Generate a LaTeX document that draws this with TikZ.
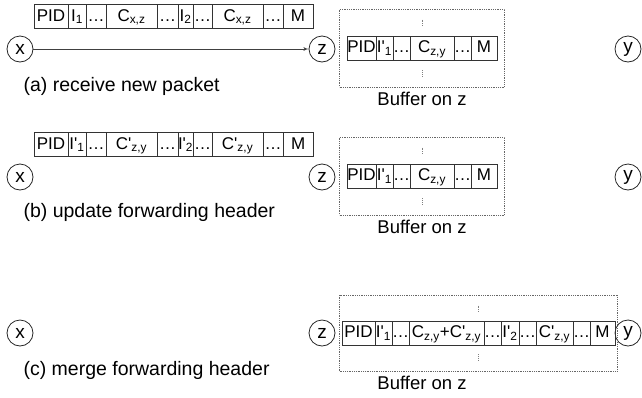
\documentclass[tikz,border=0pt]{standalone}
\usepackage{fontspec}
\setmainfont{Liberation Sans}[Ligatures=TeXOff]
\usetikzlibrary{positioning,arrows,fit}

\tikzset{
	cell/.style={draw=black!80, line width=0.8pt, minimum height=24pt, inner sep=0pt, outer sep=0pt, text height=12pt, text depth=3pt, font=\fontsize{17}{18}\selectfont},
	host/.style={circle, draw=black!85, line width=0.8pt, minimum size=26pt, inner sep=0pt, font=\fontsize{19}{20}\selectfont},
	buffer/.style={draw=black!60, line width=0.8pt, densely dotted, inner xsep=7.5pt, inner ysep=27pt},
	dotpile/.style={draw=black!50, line width=0.8pt, densely dotted},
	caption/.style={anchor=west, font=\fontsize{19.5}{21}\selectfont},
	bufname/.style={anchor=north, font=\fontsize{18.5}{20}\selectfont}
}
\newcommand{\sub}[1]{\textsubscript{#1}}
\newcommand{\skipped}{\ldots}
% a packet as a row of cells: prefix, west point, list of width/text
\newcommand{\packet}[3]{%
	\coordinate (#1-0) at #2;
	\foreach \cw/\ct [count=\i, remember=\i as \j (initially 0)] in {#3}
		\node[cell, minimum width=\cw pt, right=0pt of #1-\j] (#1-\i) {\ct};
}

\begin{document}
\begin{tikzpicture}[x=1pt,y=-1pt]
	\useasboundingbox (0,0) rectangle (642,397);
	% (a) receive new packet
	\node[host] (xa) at (20,49) {x};
	\node[host] (za) at (322,49) {z};
	\node[host] (ya) at (628,49) {y};
	\packet{ha}{(34,16.5)}{34/PID, 18/I\sub{1}, 20/\skipped, 51/C\sub{x,z}, 21/\skipped, 15/I\sub{2}, 19/\skipped, 51/C\sub{x,z}, 20/\skipped, 30/M}
	\draw[-latex', black!75, line width=0.8pt] (xa) -- (za);
	\packet{ba}{(347,48)}{29/PID, 17/I'\sub{1}, 17/\skipped, 44/C\sub{z,y}, 17/\skipped, 26/M}
	\node[buffer, fit=(ba-1) (ba-6)] (bufa) {};
	\draw[dotpile] ([yshift=-11pt]bufa.north) -- ([yshift=-18pt]bufa.north);
	\draw[dotpile] ([yshift=11pt]bufa.south) -- ([yshift=18pt]bufa.south);
	\node[bufname] (bna) at ([yshift=-1pt]bufa.south) {Buffer on z};
	\node[caption] (capa) at (20,86) {(a) receive new packet};
	% (b) update forwarding header
	\node[host] (xb) at (20,177) {x};
	\node[host] (zb) at (322,177) {z};
	\node[host] (yb) at (628,177) {y};
	\packet{hb}{(34,144.5)}{34/PID, 18/I'\sub{1}, 20/\skipped, 51/C'\sub{z,y}, 21/\skipped, 15/I'\sub{2}, 19/\skipped, 51/C'\sub{z,y}, 20/\skipped, 30/M}
	\packet{bb}{(347,176)}{29/PID, 17/I'\sub{1}, 17/\skipped, 44/C\sub{z,y}, 17/\skipped, 26/M}
	\node[buffer, fit=(bb-1) (bb-6)] (bufb) {};
	\draw[dotpile] ([yshift=-11pt]bufb.north) -- ([yshift=-18pt]bufb.north);
	\draw[dotpile] ([yshift=11pt]bufb.south) -- ([yshift=18pt]bufb.south);
	\node[bufname] (bnb) at ([yshift=-1pt]bufb.south) {Buffer on z};
	\node[caption] (capb) at (20,212) {(b) update forwarding header};
	% (c) merge forwarding header
	\node[host] (xc) at (20,333) {x};
	\node[host] (zc) at (322,333) {z};
	\node[host] (yc) at (628,333) {y};
	\packet{bc}{(342,333)}{33/PID, 17/I'\sub{1}, 16/\skipped, 75/C\sub{z,y}+C'\sub{z,y}, 16/\skipped, 18/I'\sub{2}, 16/\skipped, 37/C'\sub{z,y}, 14/\skipped, 25/M}
	\node[buffer, inner xsep=2.5pt, inner ysep=26pt, fit=(bc-1) (bc-10)] (bufc) {};
	\draw[dotpile] ([yshift=-11pt]bufc.north) -- ([yshift=-18pt]bufc.north);
	\draw[dotpile] ([yshift=11pt]bufc.south) -- ([yshift=18pt]bufc.south);
	\node[bufname] (bnc) at ([yshift=-1pt]bufa.south |- bufc.south) {Buffer on z};
	\node[caption] (capc) at (20,370) {(c) merge forwarding header};
\end{tikzpicture}
\end{document}
